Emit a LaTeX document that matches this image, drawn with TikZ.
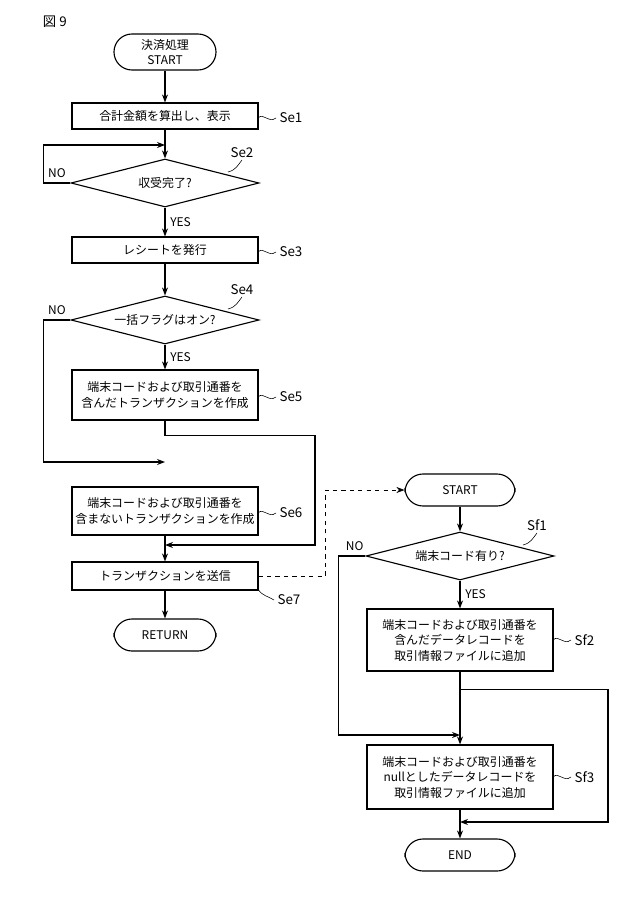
\documentclass[tikz,border=0pt]{standalone}
\usepackage{fontspec}
\setmainfont{Noto Sans CJK JP}
\usetikzlibrary{arrows.meta,positioning,shapes.geometric,calc}

\begin{document}
\begin{tikzpicture}[
    x=0.025cm, y=-0.025cm,
    font=\fontsize{8.5pt}{11pt}\selectfont,
    proc/.style={rectangle, draw, thick, minimum width=4.65cm, minimum height=0.65cm, align=center, inner sep=2pt},
    term/.style={rectangle, draw, thick, rounded corners=0.45cm, minimum width=2.55cm, minimum height=0.9cm, align=center},
    dec/.style={diamond, draw, thick, aspect=4, minimum width=4.7cm, minimum height=1.2cm, inner sep=0pt},
    arrow/.style={-{Stealth[length=2mm]}, thick},
    tag/.style={font=\fontsize{9.5pt}{11pt}\selectfont},
    wave/.style={thin}
]
\useasboundingbox (0,0) rectangle (622,906);
\node[tag, anchor=west] at (38,22) {図 9};

% left flow
\node[term] (st) at (165,52) {決済処理\\START};
\node[proc] (se1) at (165,116) {合計金額を算出し、表示};
\node[dec] (se2) at (165,183) {収受完了?};
\node[proc] (se3) at (165,250) {レシートを発行};
\node[dec] (se4) at (165,320) {一括フラグはオン?};
\node[proc, minimum height=1.25cm] (se5) at (165,395) {端末コードおよび取引通番を\\含んだトランザクションを作成};
\node[proc, minimum height=1.2cm] (se6) at (165,511) {端末コードおよび取引通番を\\含まないトランザクションを作成};
\node[proc, minimum height=0.7cm] (se7) at (165,576) {トランザクションを送信};
\node[term, minimum height=0.8cm] (ret) at (165,635) {RETURN};

\coordinate (j2) at (165,145);
\coordinate (j6) at (165,462);
\coordinate (j7) at (165,545);

\draw[arrow] (st) -- (se1);
\draw[arrow] (se1) -- (se2);
\draw[arrow] (se2) -- node[right, pos=0.5]{YES} (se3);
\draw[arrow] (se3) -- (se4);
\draw[arrow] (se4) -- node[right, pos=0.5]{YES} (se5);
\draw[arrow] (se6) -- (se7);
\draw[arrow] (se7) -- (ret);
\draw[arrow] (se2.west) -- node[above, pos=0.5]{NO} ++(-27,0) |- (j2);
\draw[arrow] (se4.west) -- node[above, pos=0.5]{NO} ++(-27,0) |- (se6.north |- j6);
\draw[arrow] (se5.south) -- ++(0,15) -| (315,520) |- (j7);

% right flow
\node[term, minimum width=2.75cm, minimum height=0.8cm] (st2) at (460,490) {START};
\node[dec] (sf1) at (460,556) {端末コード有り?};
\node[proc, minimum height=1.55cm] (sf2) at (460,640) {端末コードおよび取引通番を\\含んだデータレコードを\\取引情報ファイルに追加};
\node[proc, minimum height=1.6cm] (sf3) at (460,777) {端末コードおよび取引通番を\\nullとしたデータレコードを\\取引情報ファイルに追加};
\node[term, minimum width=2.75cm, minimum height=0.8cm] (fin) at (460,855) {END};

\coordinate (k3) at (460,735);
\coordinate (k4) at (460,822);

\draw[arrow, dashed, thin] (se7.east) -- ++(67,0) |- (st2);
\draw[arrow] (st2) -- (sf1);
\draw[arrow] (sf1) -- node[right, pos=0.5]{YES} (sf2);
\draw[arrow] (sf2) -- (sf3);
\draw[arrow] (sf3) -- (fin);
\draw[arrow] (sf1.west) -- node[above, pos=0.4]{NO} ++(-27,0) |- (k3);
\draw[arrow] (sf2.south) -- ++(0,18) -| (608,760) |- (k4);

% step tags
\draw[wave] (258,118) .. controls (264,112) and (268,124) .. (276,118) node[tag, right=-1pt]{Se1};
\draw[wave] (258,252) .. controls (264,246) and (268,258) .. (276,252) node[tag, right=-1pt]{Se3};
\draw[wave] (258,397) .. controls (264,391) and (268,403) .. (276,397) node[tag, right=-1pt]{Se5};
\draw[wave] (258,513) .. controls (264,507) and (268,519) .. (276,513) node[tag, right=-1pt]{Se6};
\draw[wave] (258,589) .. controls (262,596) and (268,596) .. (274,600) node[tag, right=-1pt]{Se7};
\draw[wave] (553,640) .. controls (559,634) and (563,646) .. (571,640) node[tag, right=-1pt]{Sf2};
\draw[wave] (553,777) .. controls (559,771) and (563,783) .. (571,777) node[tag, right=-1pt]{Sf3};
\draw[wave] (228,172) .. controls (236,170) and (238,165) .. (242,160) node[tag, above=-2pt]{Se2};
\draw[wave] (228,309) .. controls (236,307) and (238,302) .. (242,297) node[tag, above=-2pt]{Se4};
\draw[wave] (523,545) .. controls (531,543) and (533,538) .. (537,533) node[tag, above=-2pt]{Sf1};
\end{tikzpicture}
\end{document}
